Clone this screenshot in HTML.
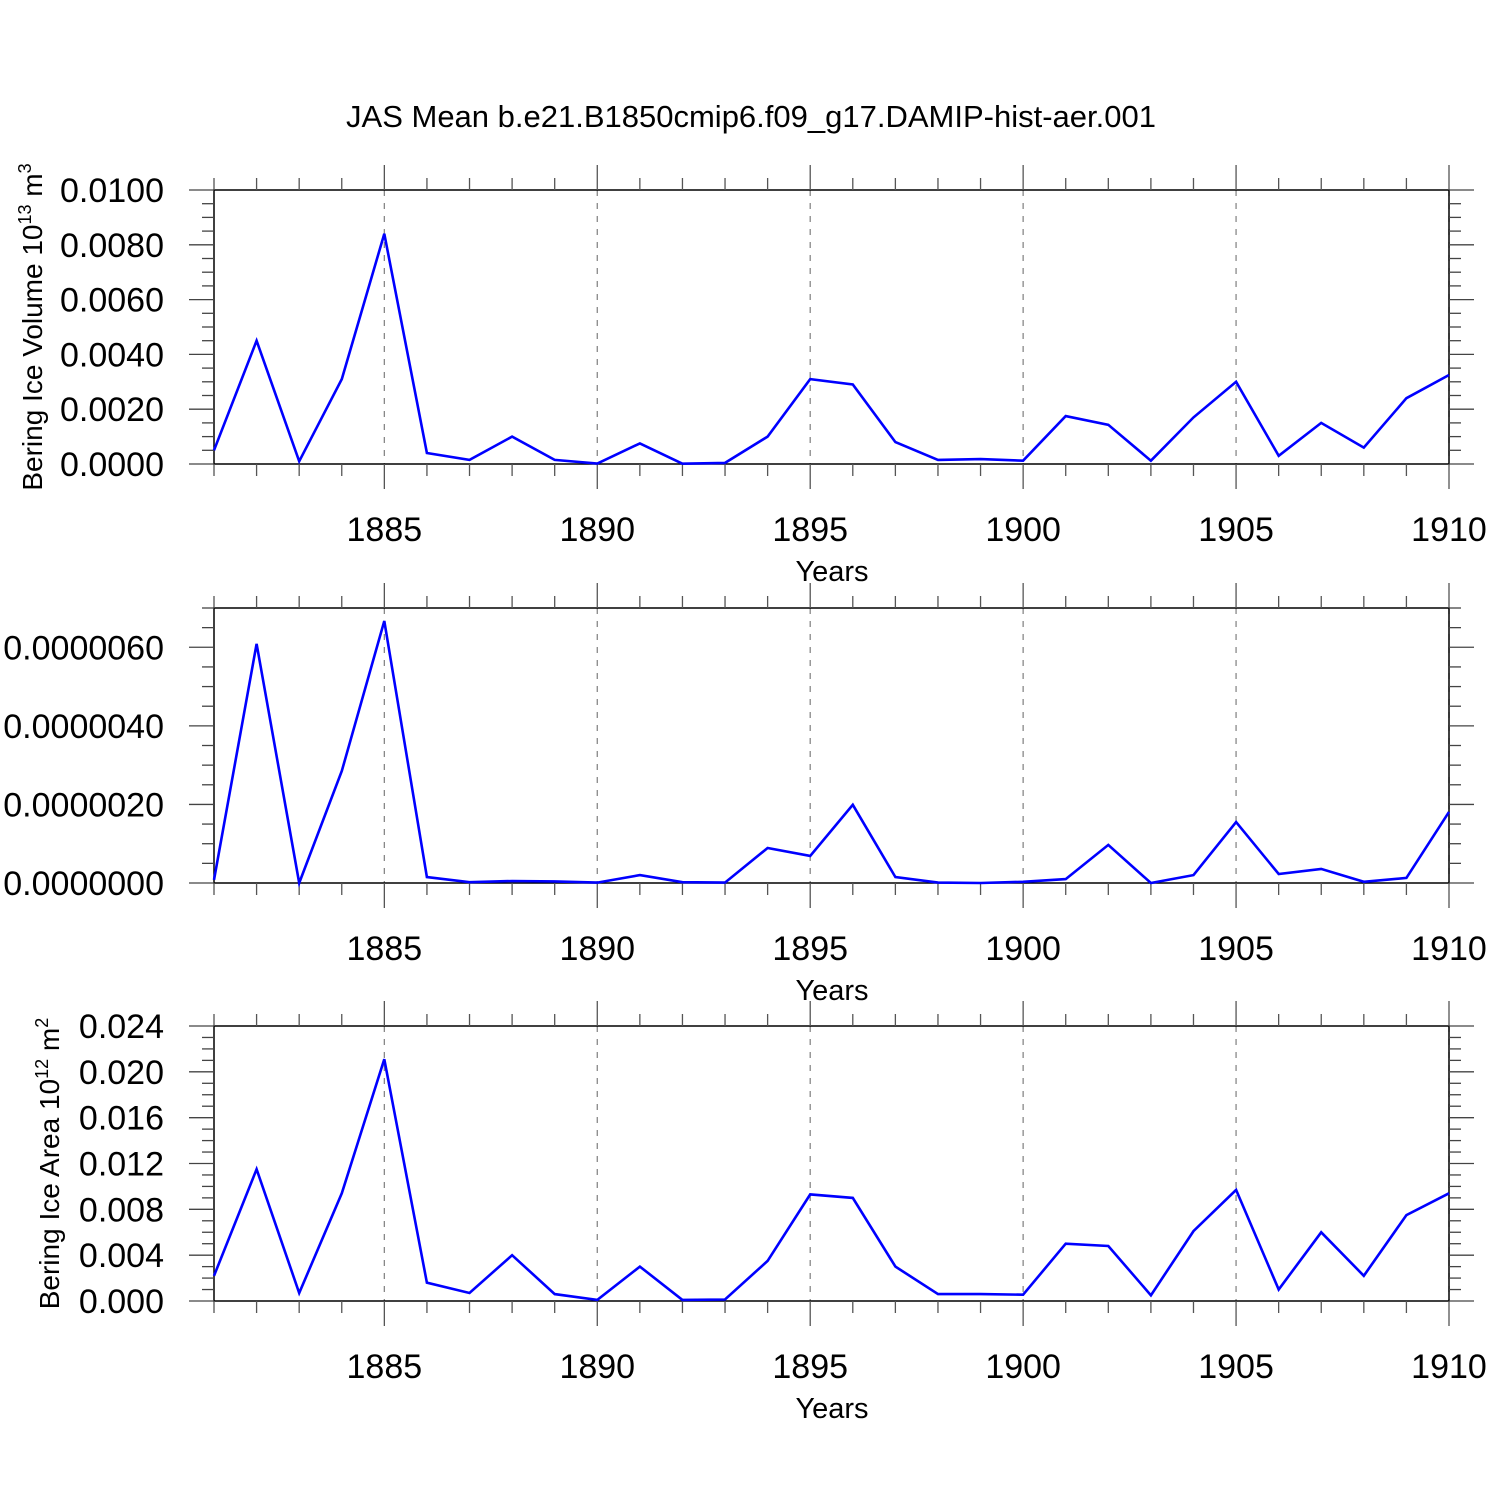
<!DOCTYPE html>
<html><head><meta charset="utf-8"><style>
html,body{margin:0;padding:0;background:#fff}
svg{display:block;font-family:"Liberation Sans",sans-serif}
</style></head><body>
<svg id="chart" width="1500" height="1500" viewBox="0 0 1500 1500">
<text x="751" y="127" font-size="31" text-anchor="middle">JAS Mean b.e21.B1850cmip6.f09_g17.DAMIP-hist-aer.001</text>
</svg>
<script>
const years = [1881,1882,1883,1884,1885,1886,1887,1888,1889,1890,1891,1892,1893,1894,1895,1896,1897,1898,1899,1900,1901,1902,1903,1904,1905,1906,1907,1908,1909,1910];
const volumeValues = [0.0005,0.0045,0.0001,0.0031,0.0084,0.0004,0.00015,0.001,0.00015,0.00002,0.00075,0.00001,0.00004,0.001,0.0031,0.0029,0.0008,0.00015,0.00018,0.00012,0.00175,0.00143,0.00012,0.0017,0.0030,0.0003,0.0015,0.0006,0.0024,0.00325];
const middleValues = [0.08e-6,6.09e-6,0,2.85e-6,6.67e-6,0.15e-6,0.02e-6,0.05e-6,0.04e-6,0.01e-6,0.2e-6,0.02e-6,0.01e-6,0.89e-6,0.69e-6,1.99e-6,0.15e-6,0.01e-6,0,0.03e-6,0.1e-6,0.97e-6,0,0.2e-6,1.55e-6,0.23e-6,0.36e-6,0.03e-6,0.13e-6,1.81e-6];
const areaValues = [0.0022,0.0115,0.0007,0.0094,0.0211,0.0016,0.0007,0.004,0.0006,0.0001,0.003,0.0001,0.00013,0.0035,0.0093,0.009,0.003,0.0006,0.0006,0.00055,0.005,0.0048,0.0005,0.0061,0.0097,0.001,0.006,0.0022,0.0075,0.0094];
const xTickYears = [1885,1890,1895,1900,1905,1910];
const volumeTicks = ["0.0000","0.0020","0.0040","0.0060","0.0080","0.0100"];
const middleTicks = ["0.0000000","0.0000020","0.0000040","0.0000060"];
const areaTicks = ["0.000","0.004","0.008","0.012","0.016","0.020","0.024"];

const NS="http://www.w3.org/2000/svg";
const svg=document.getElementById('chart');
const X0=214,X1=1449,Y0=1881,Y1=1910;
function xs(y){return X0+(y-Y0)*(X1-X0)/(Y1-Y0);}
function mk(tag,attrs,parent){const e=document.createElementNS(NS,tag);for(const k in attrs)e.setAttribute(k,attrs[k]);(parent||svg).appendChild(e);return e;}

function panel(name,top,bottom,yMax,majorStep,minorStep,tickLabels,values,title,sup,unit){
  const g=mk('g',{});
  
  
  const ys=v=>bottom-(v/yMax)*(bottom-top);
  xTickYears.forEach(yr=>{
    const l=mk('line',{x1:xs(yr),x2:xs(yr),y1:top,y2:bottom,stroke:'#888','stroke-width':1.3,'stroke-dasharray':'6,7'},g);
    
    
  });
  const fr=mk('rect',{x:X0,y:top,width:X1-X0,height:bottom-top,fill:'none',stroke:'#000','stroke-width':1.5},g);
  
  
  for(let yr=Y0;yr<=Y1;yr++){
    const maj=xTickYears.includes(yr), len=maj?25:12;
    mk('line',{x1:xs(yr),x2:xs(yr),y1:top,y2:top-len,stroke:'#555','stroke-width':1.3},g);
    mk('line',{x1:xs(yr),x2:xs(yr),y1:bottom,y2:bottom+len,stroke:'#555','stroke-width':1.3},g);
  }
  const nMinor=Math.round(yMax/minorStep);
  for(let i=0;i<=nMinor;i++){
    const v=i*minorStep, y=ys(v);
    const maj=Math.abs(v/majorStep-Math.round(v/majorStep))<1e-6, len=maj?25:12;
    mk('line',{x1:X0,x2:X0-len,y1:y,y2:y,stroke:'#444','stroke-width':1.3},g);
    mk('line',{x1:X1,x2:X1+len,y1:y,y2:y,stroke:'#444','stroke-width':1.3},g);
  }
  tickLabels.forEach((t,i)=>{
    const tx=mk('text',{x:164,y:ys(i*majorStep)+12,'font-size':34,'text-anchor':'end'},g);
    tx.textContent=t;
    
    
  });
  xTickYears.forEach(yr=>{
    const tx=mk('text',{x:xs(yr),y:bottom+77,'font-size':34,'text-anchor':'middle'},g);
    tx.textContent=yr;
    
    
  });
  const xt=mk('text',{x:832,y:bottom+117,'font-size':29,'text-anchor':'middle'},g);
  xt.textContent='Years';
  
  
  if(title){
    const cy=(top+bottom)/2;
    const t=mk('text',{x:0,y:0,'font-size':28,'text-anchor':'middle',transform:`translate(${name==='area'?59:42},${cy}) rotate(-90)`},g);
    
    
    t.appendChild(document.createTextNode(title+' 10'));
    const s=mk('tspan',{dy:-11,'font-size':18},t); s.textContent=sup;
    const u=mk('tspan',{dy:11,'font-size':28},t); u.textContent=' m';
    const s2=mk('tspan',{dy:-11,'font-size':18},t); s2.textContent=unit;
  }
  const pts=values.map((v,i)=>xs(years[i]).toFixed(1)+','+ys(v).toFixed(1)).join(' ');
  const pl=mk('polyline',{points:pts,fill:'none',stroke:'#0000ff','stroke-width':2.6,'stroke-linejoin':'miter'},g);
  
  
}
panel('volume',190,464,0.01,0.002,0.0005,volumeTicks,volumeValues,'Bering Ice Volume','13','3');
panel('middle',608,883,7e-6,2e-6,0.5e-6,middleTicks,middleValues,null);
panel('area',1026,1301,0.024,0.004,0.001,areaTicks,areaValues,'Bering Ice Area','12','2');
</script>
</body></html>
